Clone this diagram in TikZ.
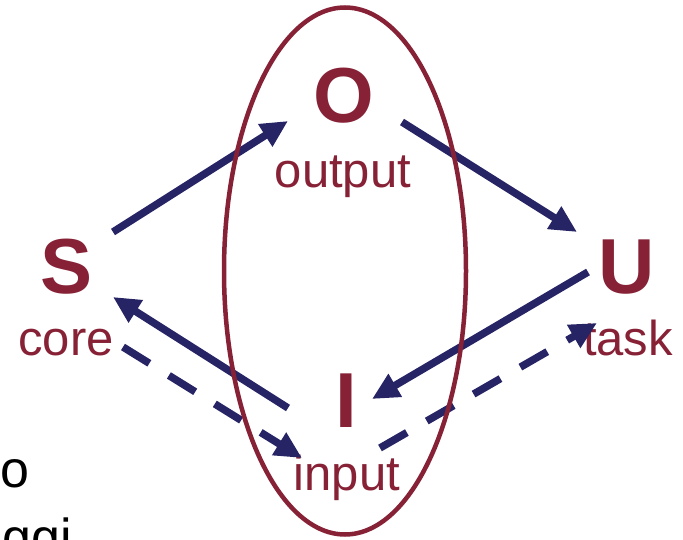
\documentclass[tikz,border=0pt]{standalone}
\usepackage{fontspec}
\setmainfont{Liberation Sans}
\usepackage{tikz}
\usetikzlibrary{arrows.meta,shapes.geometric}
\definecolor{brick}{RGB}{134,33,54}
\definecolor{navy}{RGB}{38,36,100}

\begin{document}
\begin{tikzpicture}[x=1pt,y=-1pt,
    letter/.style={text=brick,font=\fontsize{78}{78}\selectfont\bfseries,inner sep=0pt,anchor=base},
    role/.style={text=brick,font=\fontsize{49}{49}\selectfont,inner sep=0pt,anchor=base},
    flow/.style={navy,line width=7.5pt,-{Triangle[length=27pt,width=25pt]}},
    back/.style={flow,dash pattern=on 31pt off 23pt}]
  \useasboundingbox (0,0) rectangle (683,540);
  \clip (0,0) rectangle (683,540);
  % letters and their roles
  \node[letter] (S) at (67,294) {S};
  \node[letter] (O) at (344,123) {O};
  \node[letter] (U) at (627,294) {U};
  \node[letter] (I) at (346,427) {I};
  \node[role] (core) at (66,355) {core};
  \node[role] (output) at (343,188) {output};
  \node[role] (task) at (628,355) {task};
  \node[role] (input) at (347,490) {input};
  % cut-off text on the left
  \node[inner sep=0pt,anchor=base west,font=\fontsize{52}{52}\selectfont] (cutA) at (0,487) {o};
  \node[inner sep=0pt,anchor=base west,font=\fontsize{52}{52}\selectfont] (cutB) at (2,555) {ggi};
  % cycle
  \foreach \a/\sa/\b/\sb in {S/{46,-62}/O/{-56,-2},O/{58,-1}/U/{-50,-62},
                             U/{-39,-22}/I/{26,-28},I/{-58,-19}/S/{46,3}}
    \draw[flow] ([shift={(\sa)}]\a.base) -- ([shift={(\sb)}]\b.base);
  \draw[back] ([shift={(57,-8)}]core.base) -- ([shift={(-45,-32)}]input.base);
  \draw[back] ([shift={(33,-42)}]input.base) -- ([shift={(-31,-32)}]task.base);
  \node[draw=brick,line width=4.5pt,ellipse,inner sep=0pt,
        minimum width=242pt,minimum height=527pt] (ring) at (345,271) {};
\end{tikzpicture}
\end{document}
